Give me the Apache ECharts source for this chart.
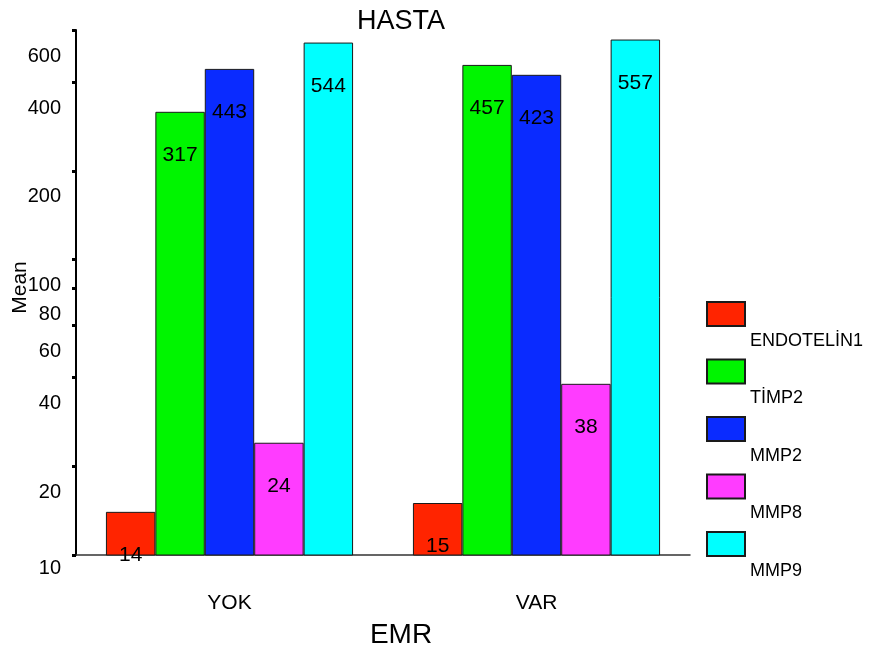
<!DOCTYPE html>
<html>
<head>
<meta charset="utf-8">
<script src="https://cdn.jsdelivr.net/npm/echarts@6/dist/echarts.min.js"></script>
<style>
html,body{margin:0;padding:0;background:#fff;}
#chart{width:872px;height:650px;}
</style>
</head>
<body>
<div id="chart"></div>
<script>
var categories = ['YOK', 'VAR'];
var seriesNames = ['ENDOTELİN1', 'TİMP2', 'MMP2', 'MMP8', 'MMP9'];
var endotelin1 = [14, 15];
var timp2 = [317, 457];
var mmp2 = [443, 423];
var mmp8 = [24, 38];
var mmp9 = [544, 557];
var yTicks = [10, 20, 40, 60, 80, 100, 200, 400, 600];
var colors = ['#ff2400', '#00f500', '#0a2bff', '#ff3cff', '#00ffff'];

var values = [endotelin1, timp2, mmp2, mmp8, mmp9];
var FONT = '"Liberation Sans", Arial, sans-serif';

var chart = echarts.init(document.getElementById('chart'));
var series = seriesNames.map(function (name, i) {
  return {
    name: name,
    type: 'bar',
    data: values[i],
    barGap: '0%',
    barCategoryGap: '19.5%',
    itemStyle: { color: colors[i], borderColor: '#1a1a1a', borderWidth: 1 },
    label: {
      show: true,
      position: 'insideTop',
      distance: 33,
      color: '#000',
      fontFamily: FONT,
      fontSize: 21
    },
    emphasis: { disabled: true }
  };
});

chart.setOption({
  animation: false,
  backgroundColor: '#fff',
  title: {
    text: 'HASTA',
    left: 352,
    top: 3,
    textStyle: { color: '#000', fontFamily: FONT, fontSize: 27, fontWeight: 'normal' }
  },
  grid: { left: 76, right: 182, top: 30, bottom: 95, containLabel: false, outerBoundsMode: 'none' },
  legend: {
    orient: 'vertical',
    left: 706,
    top: 301,
    padding: 0,
    itemWidth: 38,
    itemHeight: 24,
    itemGap: 8.5,
    icon: 'rect',
    selectedMode: false,
    data: seriesNames,
    formatter: function (name) { return '{t|' + name + '}'; },
    textStyle: {
      color: '#000',
      fontFamily: FONT,
      fontSize: 18,
      rich: {
        t: { fontFamily: FONT, fontSize: 18, color: '#000', padding: [54, 0, 0, 0] }
      }
    }
  },
  xAxis: {
    type: 'category',
    data: categories,
    name: 'EMR',
    nameLocation: 'middle',
    nameGap: 66,
    nameTextStyle: { color: '#000', fontFamily: FONT, fontSize: 28, padding: [0, 0, 0, 36] },
    axisLine: { lineStyle: { color: '#333', width: 1.5 } },
    axisTick: { alignWithLabel: true, length: 4, lineStyle: { color: '#000', width: 3 } },
    axisLabel: { margin: 38, color: '#000', fontFamily: FONT, fontSize: 21 }
  },
  yAxis: {
    type: 'log',
    logBase: 10,
    min: 10,
    max: 600,
    name: 'Mean',
    nameLocation: 'middle',
    nameGap: 45,
    nameMoveOverlap: false,
    nameTextStyle: { color: '#000', fontFamily: FONT, fontSize: 21, padding: [0, 0, 0, 10] },
    splitLine: { show: false },
    axisLine: { show: true, lineStyle: { color: '#000', width: 2 } },
    axisTick: { show: true, length: 4, lineStyle: { color: '#000', width: 3 }, customValues: yTicks },
    axisLabel: {
      margin: 15,
      color: '#000',
      fontFamily: FONT,
      fontSize: 20,
      customValues: yTicks,
      formatter: function (v) {
        return v === 10 ? '{b|' + v + '}' : '{a|' + v + '}';
      },
      rich: {
        a: { fontFamily: FONT, fontSize: 20, color: '#000', padding: [52, 0, 0, 0] },
        b: { fontFamily: FONT, fontSize: 20, color: '#000', padding: [26, 0, 0, 0] }
      }
    }
  },
  series: series
});
</script>
</body>
</html>
